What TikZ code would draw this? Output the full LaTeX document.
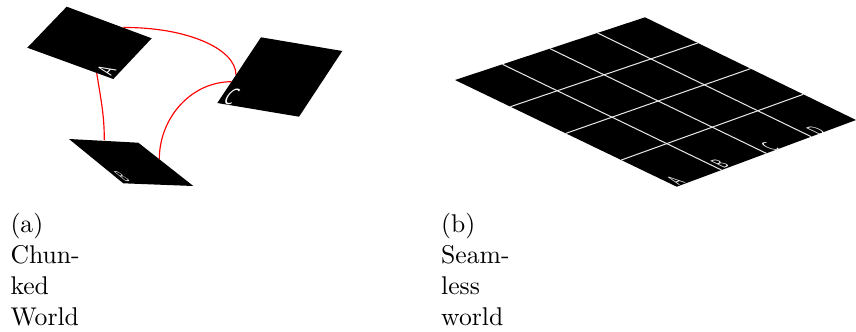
\documentclass[tikz,border=0pt]{standalone}
\usepackage{tikz}
\usetikzlibrary{calc}
\definecolor{linkRed}{RGB}{255, 0, 0}
\definecolor{gridWhite}{RGB}{230, 230, 230}

\begin{document}
\begin{tikzpicture}[x=0.39pt, y=-0.39pt,
        link/.style={linkRed, line width=0.45pt},
        gridline/.style={gridWhite, line width=0.4pt},
        tag/.style={transform shape, inner sep=0pt, text=white, font=\sffamily},
        caption/.style={anchor=north west, align=left, inner sep=0pt}]
    \useasboundingbox (0,0) rectangle (856,331);
    % chunked world: loose tiles joined by red links
    \coordinate (aC) at (123.3,27.5);
    \coordinate (cA) at (236,75);
    \coordinate (aB) at (96.7,73);
    \coordinate (bA) at (104.3,140);
    \coordinate (cB) at (231.5,81.7);
    \coordinate (bC) at (159.3,159.2);
    \draw[link] (aC) .. controls (185,27) and (236,48) .. (cA);
    \draw[link] (aB) .. controls (101,100) and (104.3,115) .. (bA);
    \draw[link] (cB) .. controls (191,81.7) and (159.3,118) .. (bC);
    \fill (66.7,6.7) -- (151.7,38.3) -- (113.3,79) -- (27.3,47.7) -- cycle;
    \fill (69,139) -- (138.3,142.7) -- (193.3,186) -- (123.3,183.3) -- cycle;
    \fill (261,37.3) -- (342.3,51) -- (299,116.7) -- (217.3,103) -- cycle;
    \begin{scope}[cm={0.368,0.390,-0.856,0.312,(106.5,70.5)}]
        \node[tag] (tileA) {A};
    \end{scope}
    \begin{scope}[cm={0.378,-0.014,-0.683,0.556,(122,176.5)}]
        \node[tag] (tileB) {B};
    \end{scope}
    \begin{scope}[cm={0.625,-0.104,0.569,0.857,(231.5,97)}]
        \node[tag] (tileC) {C};
    \end{scope}
    \node[caption] (capa) at (10,213) {(a)\\Chun-\\ked\\World};
    % seamless world: one plane cut into a 4x4 grid
    \coordinate (gl) at (455,80);
    \coordinate (gt) at (645,17.3);
    \coordinate (gr) at (856,120);
    \coordinate (gb) at (676.7,186.7);
    \fill (gl) -- (gt) -- (gr) -- (gb) -- cycle;
    \foreach \k in {1,2,3} {
        \draw[gridline] ($(gl)!\k/4!(gt)$) -- ($(gb)!\k/4!(gr)$);
        \draw[gridline] ($(gl)!\k/4!(gb)$) -- ($(gt)!\k/4!(gr)$);
    }
    \foreach \lbl/\cx/\cy in {A/675.5/180.5, B/720/163.5, C/769.5/147, D/816/131} {
        \begin{scope}[cm={0.425,0.159,-0.794,0.382,(\cx,\cy)}]
            \node[tag] (cell\lbl) {\lbl};
        \end{scope}
    }
    \node[caption] (capb) at (440.7,213) {(b)\\Seam-\\less\\world};
\end{tikzpicture}
\end{document}
